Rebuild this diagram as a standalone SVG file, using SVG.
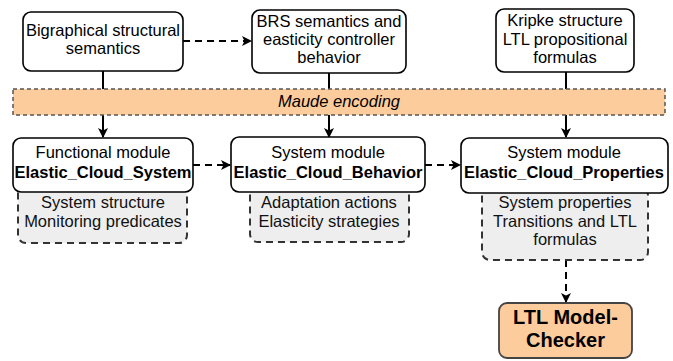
<svg xmlns="http://www.w3.org/2000/svg" width="673" height="361" viewBox="0 0 673 361">
<style>
.box{fill:#ffffff;stroke:#000000;stroke-width:1.6}
.sub{fill:#eeeeee;stroke:#333333;stroke-width:2;stroke-dasharray:7 5}
.bar{fill:#fdcc9d;stroke:#555555;stroke-width:1.5;stroke-dasharray:4 3}
.ltl{fill:#fdcc9d;stroke:#444444;stroke-width:1.8}
.t{font-family:"Liberation Sans",Arial,sans-serif;font-size:16.5px;fill:#000000;text-anchor:middle}
.sb{fill:#111111}
.b{font-weight:bold}
.i{font-style:italic}
.big{font-size:20px;font-weight:bold}
.ln{fill:none;stroke:#000000;stroke-width:2}
.ds{fill:none;stroke:#000000;stroke-width:2;stroke-dasharray:7 5}
</style>
<defs>
<marker id="ah" viewBox="0 0 10 10" refX="9" refY="5" markerWidth="10" markerHeight="10" markerUnits="userSpaceOnUse" orient="auto">
<path d="M0,0 L10,5 L0,10 L2.5,5 Z" fill="#000000"/>
</marker>
</defs>
<g id="connectors">
<path class="ds" d="M183,41 H251" marker-end="url(#ah)"/>
<path class="ln" d="M103,71 V137" marker-end="url(#ah)"/>
<path class="ln" d="M329,73 V137" marker-end="url(#ah)"/>
<path class="ln" d="M566,72 V137" marker-end="url(#ah)"/>
<path class="ds" d="M193,165 H230" marker-end="url(#ah)"/>
<path class="ds" d="M425,165 H460" marker-end="url(#ah)"/>
<path class="ds" d="M566,260 V302" marker-end="url(#ah)"/>
</g>
<g id="bar">
<rect class="bar" x="13" y="89" width="652" height="26"/>
<text class="t i" x="339" y="107">Maude encoding</text>
</g>
<g id="n1">
<rect class="box" x="23" y="12" width="160" height="59" rx="8"/>
<text class="t" x="103" y="36">Bigraphical structural</text>
<text class="t" x="103" y="54">semantics</text>
</g>
<g id="n2">
<rect class="box" x="252" y="10" width="154" height="63" rx="8"/>
<text class="t" x="329" y="27">BRS semantics and</text>
<text class="t" x="329" y="45">easticity controller</text>
<text class="t" x="329" y="63">behavior</text>
</g>
<g id="n3">
<rect class="box" x="496" y="9" width="138" height="63" rx="8"/>
<text class="t" x="565" y="26">Kripke structure</text>
<text class="t" x="565" y="45">LTL propositional</text>
<text class="t" x="565" y="63">formulas</text>
</g>
<g id="subA">
<rect class="sub" x="18" y="186" width="169" height="57" rx="8"/>
<text class="t sb" x="103" y="208">System structure</text>
<text class="t sb" x="103" y="227">Monitoring predicates</text>
</g>
<g id="nA">
<rect class="box" x="13" y="138" width="180" height="54" rx="8"/>
<text class="t" x="103" y="158">Functional module</text>
<text class="t b" x="103" y="178">Elastic_Cloud_System</text>
</g>
<g id="subB">
<rect class="sub" x="250" y="186" width="159" height="56" rx="8"/>
<text class="t sb" x="329" y="208">Adaptation actions</text>
<text class="t sb" x="329" y="227">Elasticity strategies</text>
</g>
<g id="nB">
<rect class="box" x="231" y="137" width="194" height="55" rx="8"/>
<text class="t" x="328" y="158">System module</text>
<text class="t b" x="328" y="178">Elastic_Cloud_Behavior</text>
</g>
<g id="subC">
<rect class="sub" x="482" y="187" width="166" height="73" rx="8"/>
<text class="t sb" x="565" y="208">System properties</text>
<text class="t sb" x="565" y="227">Transitions and LTL</text>
<text class="t sb" x="565" y="245">formulas</text>
</g>
<g id="nC">
<rect class="box" x="461" y="138" width="207" height="55" rx="8"/>
<text class="t" x="564" y="158">System module</text>
<text class="t b" x="564" y="178">Elastic_Cloud_Properties</text>
</g>
<g id="nLTL">
<rect class="ltl" x="499" y="303" width="133" height="55" rx="8"/>
<text class="t big" x="565.5" y="324">LTL Model-</text>
<text class="t big" x="565.5" y="347">Checker</text>
</g>
</svg>
